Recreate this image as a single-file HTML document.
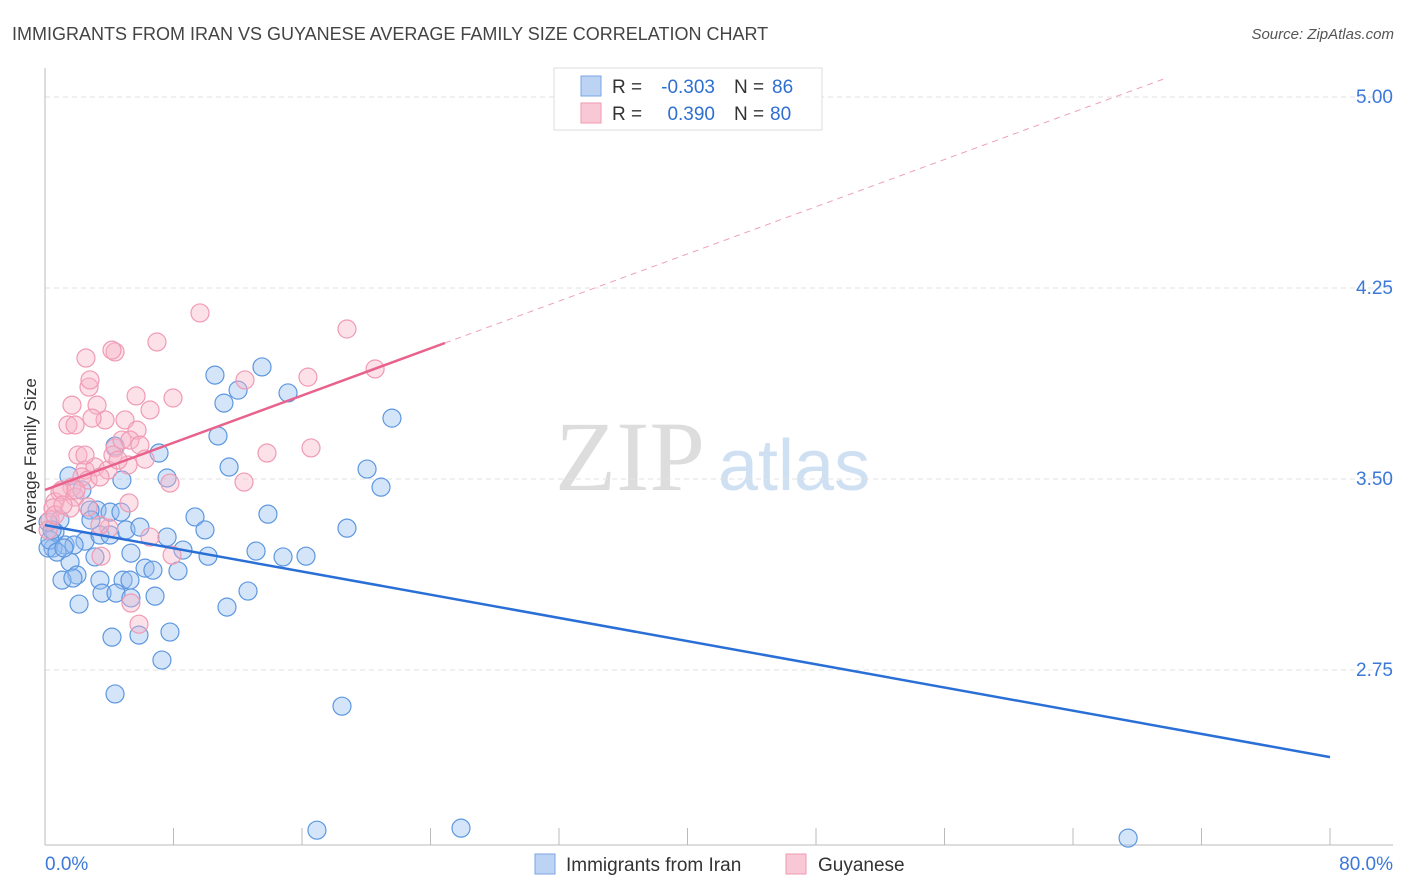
<!DOCTYPE html>
<html><head><meta charset="utf-8"><style>
body{margin:0;background:#fff;font-family:"Liberation Sans",sans-serif;}
#wrap{position:relative;width:1406px;height:892px;overflow:hidden;}
</style></head><body><div id="wrap">
<svg id="svg" width="1406" height="892" xmlns="http://www.w3.org/2000/svg">
<text x="12" y="40" font-size="18" fill="#444">IMMIGRANTS FROM IRAN VS GUYANESE AVERAGE FAMILY SIZE CORRELATION CHART</text>
<text x="1394" y="39" font-size="15" fill="#555" font-style="italic" text-anchor="end">Source: ZipAtlas.com</text>
<text x="36" y="456" font-size="17" fill="#333" text-anchor="middle" transform="rotate(-90 36 456)">Average Family Size</text>
<text x="555" y="490" font-size="100" fill="#ddd" font-family="Liberation Serif">ZIP</text>
<text x="718" y="490" font-size="72" fill="#cfe0f3">atlas</text>
<g id="grid"></g><g id="axes"></g><g id="pts"></g><g id="trend"></g>
<g>
<rect x="554" y="68" width="268" height="62" fill="#fff" stroke="#ddd"/>
<rect x="581" y="76" width="20" height="20" fill="#bcd3f3" stroke="#7aa6e6"/>
<rect x="581" y="103" width="20" height="20" fill="#f9c8d6" stroke="#ee9ab3"/>
<text x="612" y="93" font-size="19" fill="#333">R =</text>
<text x="715" y="93" font-size="19" fill="#2f6fd0" text-anchor="end">-0.303</text>
<text x="734" y="93" font-size="19" fill="#333">N =</text>
<text x="772" y="93" font-size="19" fill="#2f6fd0">86</text>
<text x="612" y="120" font-size="19" fill="#333">R =</text>
<text x="715" y="120" font-size="19" fill="#2f6fd0" text-anchor="end">0.390</text>
<text x="734" y="120" font-size="19" fill="#333">N =</text>
<text x="770" y="120" font-size="19" fill="#2f6fd0">80</text>
</g>
<g>
<rect x="535" y="854" width="20" height="20" fill="#bcd3f3" stroke="#7aa6e6"/>
<text x="566" y="871" font-size="19" fill="#333">Immigrants from Iran</text>
<rect x="786" y="854" width="20" height="20" fill="#f9c8d6" stroke="#ee9ab3"/>
<text x="818" y="871" font-size="19" fill="#333">Guyanese</text>
</g>
</svg></div>
<script>
const yTicks=[5.00,4.25,3.50,2.75];
const xTickLabels=["0.0%","80.0%"];
const blueX=[10.58,13.51,15.13,11.14,12.02,10.77,21.60,4.36,7.10,11.46,20.05,20.92,7.60,4.79,1.49,2.30,9.34,13.88,18.80,9.96,5.04,3.24,2.80,4.05,4.73,0.93,1.25,2.49,1.81,0.50,0.62,3.42,4.05,5.35,7.60,8.59,10.15,13.14,14.82,16.25,6.23,6.72,8.28,3.11,1.56,1.99,1.06,1.74,3.42,4.86,5.29,3.55,4.42,5.35,6.85,12.64,11.33,2.12,4.17,5.85,7.78,7.28,4.36,18.49,16.93,25.90,67.43,0.19,0.31,0.75,1.18,0.19,0.44,2.86,5.91];
const blueY=[3.908,3.940,3.838,3.798,3.849,3.669,3.739,3.629,3.602,3.547,3.539,3.468,3.504,3.496,3.512,3.457,3.351,3.362,3.307,3.300,3.300,3.378,3.378,3.370,3.370,3.339,3.241,3.256,3.241,3.229,3.292,3.280,3.280,3.209,3.272,3.221,3.197,3.217,3.194,3.197,3.150,3.142,3.139,3.194,3.174,3.123,3.103,3.111,3.103,3.103,3.103,3.052,3.052,3.033,3.040,3.060,2.997,3.009,2.879,2.887,2.899,2.789,2.656,2.608,2.121,2.129,2.090,3.229,3.260,3.213,3.229,3.331,3.300,3.339,3.311];
const pinkX=[9.65,18.80,2.55,4.36,4.17,6.97,20.55,16.37,2.74,2.80,12.45,5.67,7.97,6.54,1.68,1.43,1.87,3.24,3.74,4.98,2.93,5.73,4.36,4.79,5.29,13.82,16.56,12.39,7.78,2.05,2.49,3.11,2.30,1.68,0.93,0.62,1.06,1.87,2.68,3.92,4.23,5.17,5.91,5.23,3.98,2.68,3.42,0.50,0.31,0.19,0.62,1.56,1.12,6.54,7.91,3.49,5.35,5.85,2.49,1.93,3.42,4.55,6.23];
const pinkY=[4.152,4.089,3.975,3.999,4.006,4.038,3.932,3.900,3.861,3.889,3.889,3.826,3.818,3.771,3.790,3.712,3.712,3.790,3.732,3.732,3.739,3.692,3.622,3.653,3.653,3.602,3.622,3.488,3.484,3.594,3.535,3.547,3.508,3.468,3.449,3.410,3.457,3.429,3.496,3.535,3.594,3.555,3.633,3.406,3.307,3.390,3.319,3.386,3.339,3.300,3.359,3.386,3.398,3.272,3.201,3.197,3.013,2.930,3.594,3.457,3.508,3.574,3.578];
const blueTrend=[[0,3.319],[80,2.408]];
const pinkTrend=[[0,3.457],[24.9,4.034]];
const pinkDash=[[24.9,4.034],[69.7,5.072]];
const NS="http://www.w3.org/2000/svg";
const X0=45,X1=1330,Y5=97,PXU=254.67;
const sx=v=>X0+(v/80)*(X1-X0);
const sy=v=>Y5+(5-v)*PXU;
function mk(tag,attrs,parent){const e=document.createElementNS(NS,tag);for(const k in attrs)e.setAttribute(k,attrs[k]);document.getElementById(parent).appendChild(e);return e;}
yTicks.forEach(t=>{
 const l=mk('line',{x1:45,x2:1393,y1:sy(t),y2:sy(t),stroke:'#e2e2e2','stroke-dasharray':'5,4'},'grid');
 
 
 const tx=mk('text',{x:1393,y:sy(t)+6,'font-size':19,fill:'#3b78d8','text-anchor':'end'},'grid');
 tx.textContent=t.toFixed(2);
 
 
});
let ax=mk('line',{x1:45,x2:45,y1:68,y2:845,stroke:'#bbb'},'axes');


ax=mk('line',{x1:45,x2:1393,y1:845,y2:845,stroke:'#bbb'},'axes');


for(let i=0;i<=10;i++){const t=mk('line',{x1:sx(i*8),x2:sx(i*8),y1:828,y2:845,stroke:'#bbb'},'axes');
 
 }
[[0,'start',45],[1,'end',1393]].forEach(([i,a,x])=>{const t=mk('text',{x:x,y:870,'font-size':19,fill:'#3b78d8','text-anchor':a},'axes');t.textContent=xTickLabels[i];
 
 });
blueX.forEach((x,i)=>{const c=mk('circle',{cx:sx(x),cy:sy(blueY[i]),r:9,fill:'rgba(150,190,240,0.4)',stroke:'#5d97e0','stroke-width':1.2},'pts');
 
 });
pinkX.forEach((x,i)=>{const c=mk('circle',{cx:sx(x),cy:sy(pinkY[i]),r:9,fill:'rgba(248,180,200,0.4)',stroke:'#f09ab4','stroke-width':1.2},'pts');
 
 });
let tl=mk('line',{x1:sx(blueTrend[0][0]),y1:sy(blueTrend[0][1]),x2:sx(blueTrend[1][0]),y2:sy(blueTrend[1][1]),stroke:'#2a6fd6','stroke-width':2.5},'trend');


tl=mk('line',{x1:sx(pinkTrend[0][0]),y1:sy(pinkTrend[0][1]),x2:sx(pinkTrend[1][0]),y2:sy(pinkTrend[1][1]),stroke:'#e8628c','stroke-width':2.5},'trend');


tl=mk('line',{x1:sx(pinkDash[0][0]),y1:sy(pinkDash[0][1]),x2:sx(pinkDash[1][0]),y2:sy(pinkDash[1][1]),stroke:'#eea0b8','stroke-width':1,'stroke-dasharray':'6,5'},'trend');


</script></body></html>
